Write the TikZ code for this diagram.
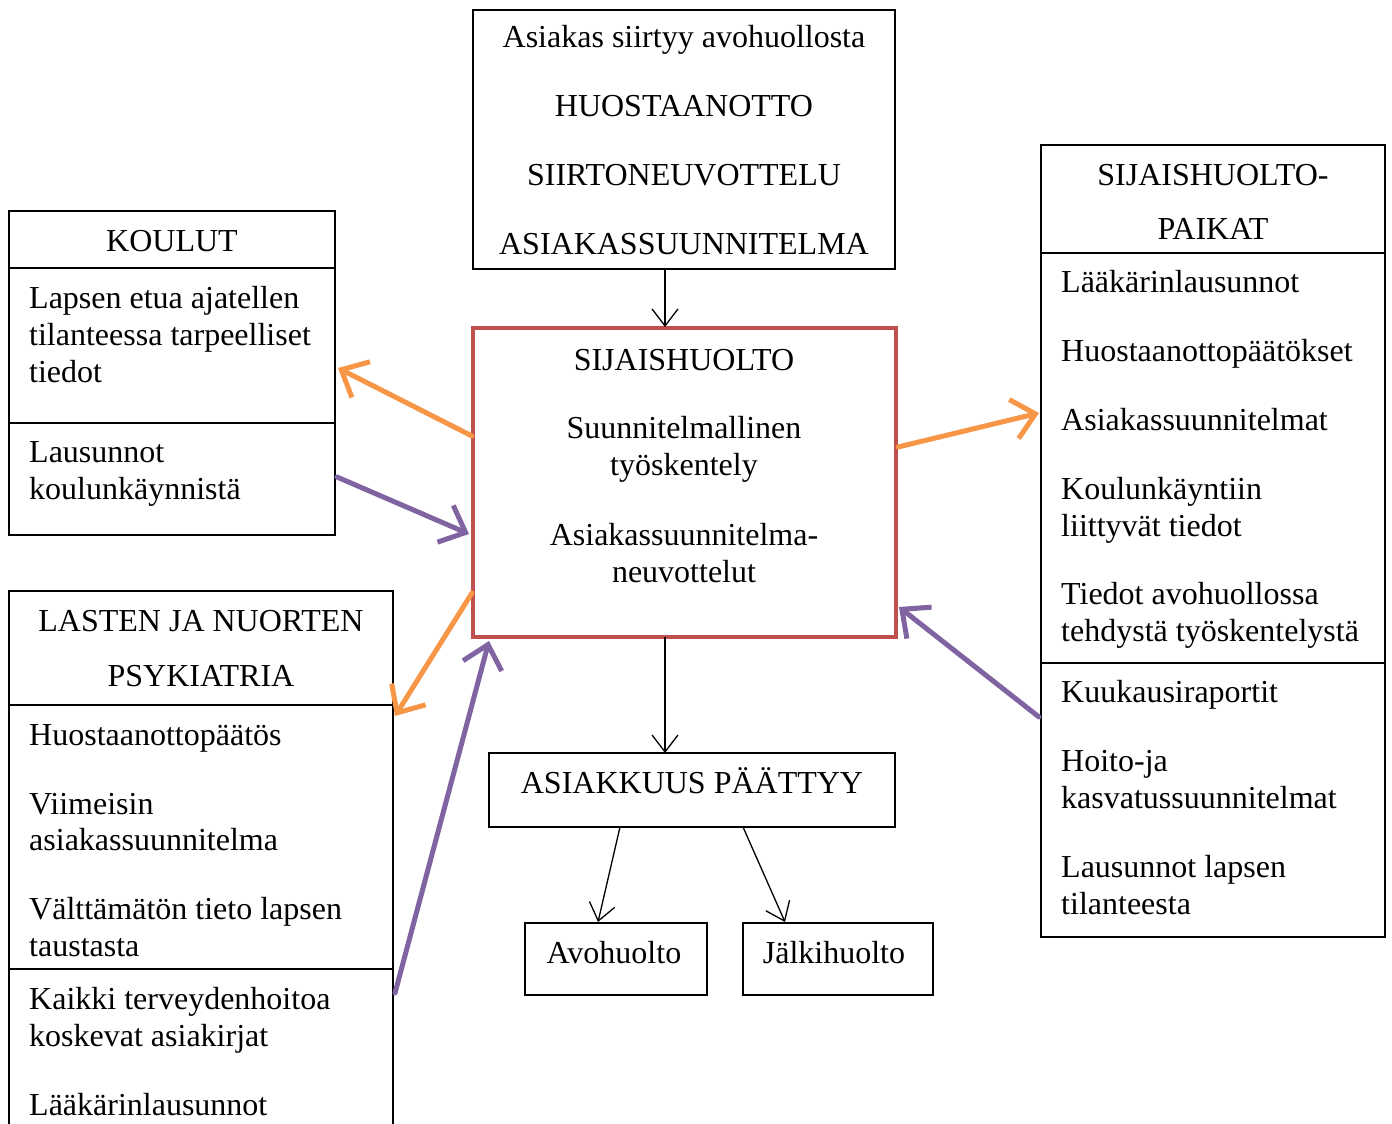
\documentclass[tikz,border=0pt]{standalone}
\usepackage{fontspec}
\setmainfont{Liberation Serif}
\usetikzlibrary{arrows.meta}
\definecolor{boxred}{HTML}{C0504D}
\definecolor{arrorange}{HTML}{F79646}
\definecolor{arrpurple}{HTML}{8064A2}
\begin{document}
\begin{tikzpicture}[x=1pt,y=-1pt,
  font=\fontsize{32}{37}\selectfont,
  box/.style={draw=black, line width=1.3pt, anchor=north west, inner sep=0pt, outer sep=0pt},
  redbox/.style={draw=boxred, line width=4pt, anchor=north west, inner sep=0pt, outer sep=0pt},
  tl/.style={anchor=base west, inner sep=0pt},
  tc/.style={anchor=base, inner sep=0pt},
  blk/.style={draw=black, line width=1.3pt, -{Straight Barb[length=17pt,width=26pt,line width=1.3pt]}},
  orng/.style={draw=arrorange, line width=5pt, line cap=round, -{Straight Barb[length=22pt,width=40pt,line width=5pt]}},
  purp/.style={draw=arrpurple, line width=5pt, line cap=round, -{Straight Barb[length=22pt,width=40pt,line width=5pt]}},
  divline/.style={draw=black, line width=1.3pt}
]
\useasboundingbox (0,0) rectangle (1392,1124);
\fill[white] (0,0) rectangle (1392,1124);

% boxes
\node[box, minimum width=422pt, minimum height=259pt] (top) at (473,10) {};
\node[redbox, minimum width=423pt, minimum height=309pt] (center) at (473,328) {};
\node[box, minimum width=326pt, minimum height=324pt] (koulut) at (9,211) {};
\node[box, minimum width=384pt, minimum height=560pt] (lasten) at (9,591) {};
\node[box, minimum width=344pt, minimum height=792pt] (paikat) at (1041,145) {};
\node[box, minimum width=406pt, minimum height=74pt] (loppu) at (489,753) {};
\node[box, minimum width=182pt, minimum height=72pt] (avo) at (525,923) {};
\node[box, minimum width=190pt, minimum height=72pt] (jalki) at (743,923) {};

% dividers
\draw[divline] (9,268) -- (335,268);
\draw[divline] (9,423) -- (335,423);
\draw[divline] (9,705) -- (393,705);
\draw[divline] (9,969) -- (393,969);
\draw[divline] (1041,253) -- (1385,253);
\draw[divline] (1041,663) -- (1385,663);

% top box text
\node[tc] (ta) at (684,48) {Asiakas siirtyy avohuollosta};
\node[tc] (tb) at (684,116) {HUOSTAANOTTO};
\node[tc] (tcc) at (684,185) {SIIRTONEUVOTTELU};
\node[tc] (td) at (684,254) {ASIAKASSUUNNITELMA};

% center text
\node[tc] (ca) at (684,370) {SIJAISHUOLTO};
\node[tc] (cb) at (684,438) {Suunnitelmallinen};
\node[tc] (cc) at (684,475) {työskentely};
\node[tc] (cd) at (684,545) {Asiakassuunnitelma-};
\node[tc] (ce) at (684,582) {neuvottelut};

% koulut text
\node[tc] (ka) at (172,251) {KOULUT};
\node[tl] (kb) at (29,308) {Lapsen etua ajatellen};
\node[tl] (kc) at (29,345) {tilanteessa tarpeelliset};
\node[tl] (kd) at (29,382) {tiedot};
\node[tl] (ke) at (29,462) {Lausunnot};
\node[tl] (kf) at (29,499) {koulunkäynnistä};

% lasten text
\node[tc] (la) at (201,631) {LASTEN JA NUORTEN};
\node[tc] (lb) at (201,686) {PSYKIATRIA};
\node[tl] (lc) at (29,745) {Huostaanottopäätös};
\node[tl] (ld) at (29,814) {Viimeisin};
\node[tl] (le) at (29,850) {asiakassuunnitelma};
\node[tl] (lf) at (29,919) {Välttämätön tieto lapsen};
\node[tl] (lg) at (29,956) {taustasta};
\node[tl] (lh) at (29,1009) {Kaikki terveydenhoitoa};
\node[tl] (li) at (29,1046) {koskevat asiakirjat};
\node[tl] (lj) at (29,1115) {Lääkärinlausunnot};

% paikat text
\node[tc] (pa) at (1213,185) {SIJAISHUOLTO-};
\node[tc] (pb) at (1213,239) {PAIKAT};
\node[tl] (pc) at (1061,292) {Lääkärinlausunnot};
\node[tl] (pd) at (1061,361) {Huostaanottopäätökset};
\node[tl] (pe) at (1061,430) {Asiakassuunnitelmat};
\node[tl] (pf) at (1061,499) {Koulunkäyntiin};
\node[tl] (pg) at (1061,536) {liittyvät tiedot};
\node[tl] (ph) at (1061,604) {Tiedot avohuollossa};
\node[tl] (pi) at (1061,641) {tehdystä työskentelystä};
\node[tl] (pj) at (1061,702) {Kuukausiraportit};
\node[tl] (pk) at (1061,771) {Hoito-ja};
\node[tl] (pl) at (1061,808) {kasvatussuunnitelmat};
\node[tl] (pm) at (1061,877) {Lausunnot lapsen};
\node[tl] (pn) at (1061,914) {tilanteesta};

% bottom texts
\node[tc] (loa) at (692,793) {ASIAKKUUS PÄÄTTYY};
\node[tc] (ava) at (614,963) {Avohuolto};
\node[tc] (jaa) at (834,963) {Jälkihuolto};

% connector coordinates
\coordinate (topS) at (665,269);
\coordinate (cenN) at (665,327);
\coordinate (cenS) at (665,637);
\coordinate (lopN) at (665,753);
\coordinate (lopA) at (620,827);
\coordinate (avoN) at (598,922);
\coordinate (lopB) at (743,827);
\coordinate (jalN) at (785,922);

\coordinate (o1s) at (472,436);
\coordinate (o1e) at (338,368);
\coordinate (p1s) at (337,477);
\coordinate (p1e) at (469,534);
\coordinate (o2s) at (472,593);
\coordinate (o2e) at (395,716);
\coordinate (p2s) at (395,993);
\coordinate (p2e) at (489,641);
\coordinate (o3s) at (898,447);
\coordinate (o3e) at (1039,413);
\coordinate (p3s) at (1039,717);
\coordinate (p3e) at (899,607);

% black connectors
\draw[blk] (topS) -- (cenN);
\draw[blk] (cenS) -- (lopN);
\draw[blk] (lopA) -- (avoN);
\draw[blk] (lopB) -- (jalN);

% coloured connectors
\draw[orng] (o1s) -- (o1e);
\draw[purp] (p1s) -- (p1e);
\draw[orng] (o2s) -- (o2e);
\draw[purp] (p2s) -- (p2e);
\draw[orng] (o3s) -- (o3e);
\draw[purp] (p3s) -- (p3e);
\end{tikzpicture}
\end{document}
